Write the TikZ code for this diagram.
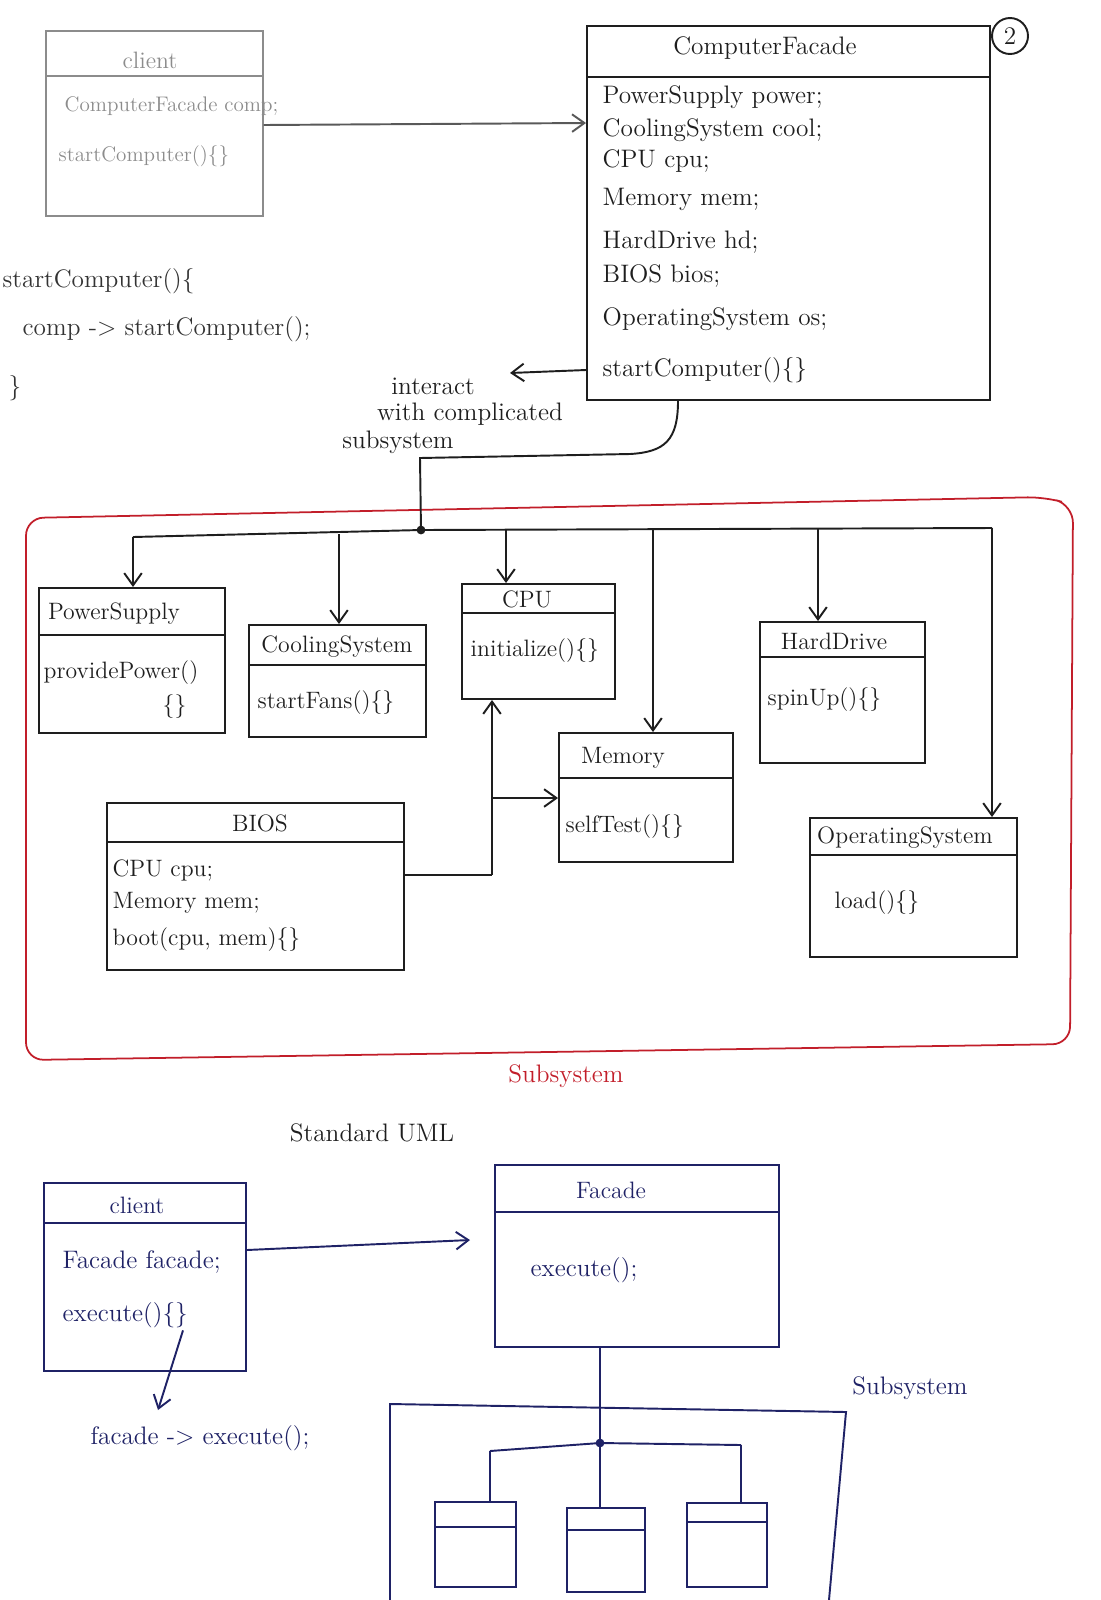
\documentclass[tikz,border=0pt]{standalone}
\usetikzlibrary{arrows.meta,fit}
\definecolor{inkBlack}{HTML}{1E1E1E}
\definecolor{inkGrey}{HTML}{8C8C8C}
\definecolor{inkRed}{HTML}{C21E2A}
\definecolor{inkBlue}{HTML}{1F2266}

\begin{document}
\begin{tikzpicture}[x=0.02cm, y=-0.02cm, color=inkBlack, line width=1.1pt,
    >={Straight Barb[length=7pt,width=10pt]},
    classbox/.style={draw, inner sep=0pt},
    classtitle/.style={font=\fontsize{13.5}{16}\selectfont},
    member/.style={font=\fontsize{13.5}{16}\selectfont, anchor=west, inner sep=1pt},
    bigmember/.style={font=\Large, anchor=west, inner sep=1pt}]

    \useasboundingbox (0,0) rectangle (1101,1600);

    % client (faint)
    \node[classbox, fit={(46,31) (263,216)}, draw=inkGrey, line width=0.8pt] (client) {};
    \draw[inkGrey, line width=0.8pt] (client.west |- 0,76) -- (client.east |- 0,76);
    \node[classtitle, inkGrey] (clientT) at (150,60) {client};
    \node[member, inkGrey, font=\large] (clientM1) at (62,106) {ComputerFacade comp;};
    \node[member, inkGrey, font=\large] (clientM2) at (56,156) {startComputer()\{\}};

    % client code
    \node[bigmember, black!80] (code1) at (0,281) {startComputer()\{};
    \node[bigmember, black!80] (code2) at (20,329) {comp -> startComputer();};
    \node[bigmember, black!80] (code3) at (6,388) {\}};

    % facade class
    \node[classbox, fit={(587,26) (990,400)}] (cf) {};
    \draw (cf.west |- 0,77) -- (cf.east |- 0,77);
    \node[font=\Large] (cfT) at (765,48) {ComputerFacade};
    \foreach \y/\txt [count=\i] in {97/{PowerSupply power;}, 130/{CoolingSystem cool;},
        161/{CPU cpu;}, 199/{Memory mem;}, 242/{HardDrive hd;}, 276/{BIOS bios;},
        319/{OperatingSystem os;}, 370/{startComputer()\{\}}}
        \node[bigmember] (cfm\i) at (600,\y) {\txt};

    \node[draw, circle, minimum size=0.72cm, inner sep=0pt, font=\Large] (pageNo) at (1010,36) {2};

    \draw[->, black!65] (client.east |- 0,125) -- (cf.west |- 0,123);

    % note on the facade
    \coordinate (intEnd) at (510,373);
    \draw[->] (cf.west |- cfm8) -- (intEnd);
    \node[font=\Large] (hint1) at (433,386) {interact};
    \node[font=\Large] (hint2) at (470,414) {with complicated};
    \node[font=\Large] (hint3) at (398,442) {subsystem};

    % subsystem boundary
    \draw[inkRed, line width=1pt, rounded corners=10pt]
        (26,1060) -- (26,518) -- (1045,497) -- (1073,505) -- (1070,1044) -- cycle;
    \node[font=\Large, inkRed] (subRed) at (566,1076) {Subsystem};

    % subsystem classes
    \node[classbox, fit={(39,588) (225,733)}] (ps) {};
    \draw (ps.west |- 0,635) -- (ps.east |- 0,635);
    \node[classtitle] (psT) at (114,614) {PowerSupply};
    \node[member] (psM1) at (41,673) {providePower()};
    \node[member] (psM2) at (160,707) {\{\}};

    \node[classbox, fit={(249,625) (426,737)}] (cool) {};
    \draw (cool.west |- 0,665) -- (cool.east |- 0,665);
    \node[classtitle] (coolT) at (337,647) {CoolingSystem};
    \node[member] (coolM1) at (255,703) {startFans()\{\}};

    \node[classbox, fit={(462,584) (615,699)}] (cpu) {};
    \draw (cpu.west |- 0,613) -- (cpu.east |- 0,613);
    \node[classtitle] (cpuT) at (527,599) {CPU};
    \node[member] (cpuM1) at (468,651) {initialize()\{\}};

    \node[classbox, fit={(559,733) (733,862)}] (mem) {};
    \draw (mem.west |- 0,778) -- (mem.east |- 0,778);
    \node[classtitle] (memT) at (623,758) {Memory};
    \node[member] (memM1) at (563,827) {selfTest()\{\}};

    \node[classbox, fit={(760,622) (925,763)}] (hd) {};
    \draw (hd.west |- 0,657) -- (hd.east |- 0,657);
    \node[classtitle] (hdT) at (834,641) {HardDrive};
    \node[member] (hdM1) at (765,700) {spinUp()\{\}};

    \node[classbox, fit={(107,803) (404,970)}] (bios) {};
    \draw (bios.west |- 0,842) -- (bios.east |- 0,842);
    \node[classtitle] (biosT) at (260,823) {BIOS};
    \node[member] (biosM1) at (110,870) {CPU cpu;};
    \node[member] (biosM2) at (110,903) {Memory mem;};
    \node[member] (biosM3) at (110,940) {boot(cpu, mem)\{\}};

    \node[classbox, fit={(810,818) (1017,957)}] (os) {};
    \draw (os.west |- 0,855) -- (os.east |- 0,855);
    \node[classtitle] (osT) at (905,838) {OperatingSystem};
    \node[member] (osM1) at (832,903) {load()\{\}};

    % facade to subsystem
    \coordinate (hub) at (421,530);
    \draw (cf.south -| 678,0) .. controls (678,440) and (665,452) .. (630,454) -- (420,458) -- (hub);
    \fill (hub) circle (2.5pt);

    \coordinate (d1) at (133,537);
    \coordinate (d2) at (339,534);
    \coordinate (d3) at (506,530);
    \coordinate (d4) at (653,530);
    \coordinate (d5) at (818,529);
    \coordinate (busR) at (992,528);
    \draw (d1) -- (hub) -- (busR);
    \foreach \p/\b in {d1/ps, d2/cool, d3/cpu, d4/mem, d5/hd, busR/os}
        \draw[->] (\p) -- (\b.north -| \p);

    % bios uses cpu and memory
    \coordinate (bj) at (492,875);
    \coordinate (bm) at (492,798);
    \draw (bios.east |- bj) -- (bj);
    \draw[->] (bj) -- (cpu.south -| bj);
    \draw[->] (bm) -- (mem.west |- bm);

    % standard uml
    \node[font=\Large] (stdUml) at (372,1133) {Standard UML};

    \begin{scope}[color=inkBlue]
        \node[classbox, fit={(44,1183) (246,1371)}] (client2) {};
        \draw (client2.west |- 0,1223) -- (client2.east |- 0,1223);
        \node[classtitle] (client2T) at (137,1205) {client};
        \node[bigmember] (client2M1) at (60,1262) {Facade facade;};
        \node[bigmember] (client2M2) at (60,1315) {execute()\{\}};

        \node[classbox, fit={(495,1165) (779,1347)}] (facade) {};
        \draw (facade.west |- 0,1212) -- (facade.east |- 0,1212);
        \node[classtitle] (facadeT) at (611,1190) {Facade};
        \node[bigmember] (facadeM1) at (528,1270) {execute();};

        \coordinate (facArr) at (470,1240);
        \draw[->] (client2.east |- 0,1250) -- (facArr);

        \coordinate (noteTop) at (158,1410);
        \draw[->] (client2M2.south -| 183,0) -- (noteTop);
        \node[font=\Large] (note) at (200,1438) {facade -> execute();};

        % subsystem sketch
        \draw (390,1600) -- (390,1404) -- (846,1412) -- (829,1600);
        \node[font=\Large] (subLabel) at (910,1388) {Subsystem};

        \coordinate (hub2) at (600,1443);
        \coordinate (sbL) at (490,1451);
        \coordinate (sbR) at (741,1445);
        \draw (facade.south -| hub2) -- (hub2);
        \fill (hub2) circle (2.5pt);
        \draw (sbL) -- (hub2) -- (sbR);

        \node[classbox, fit={(435,1502) (516,1587)}] (sub1) {};
        \node[classbox, fit={(567,1508) (645,1592)}] (sub2) {};
        \node[classbox, fit={(687,1503) (767,1587)}] (sub3) {};
        \draw (sub1.west |- 0,1527) -- (sub1.east |- 0,1527);
        \draw (sub2.west |- 0,1530) -- (sub2.east |- 0,1530);
        \draw (sub3.west |- 0,1522) -- (sub3.east |- 0,1522);

        \draw (sbL) -- (sub1.north -| sbL);
        \draw (hub2) -- (sub2.north -| hub2);
        \draw (sbR) -- (sub3.north -| sbR);
    \end{scope}

\end{tikzpicture}
\end{document}
